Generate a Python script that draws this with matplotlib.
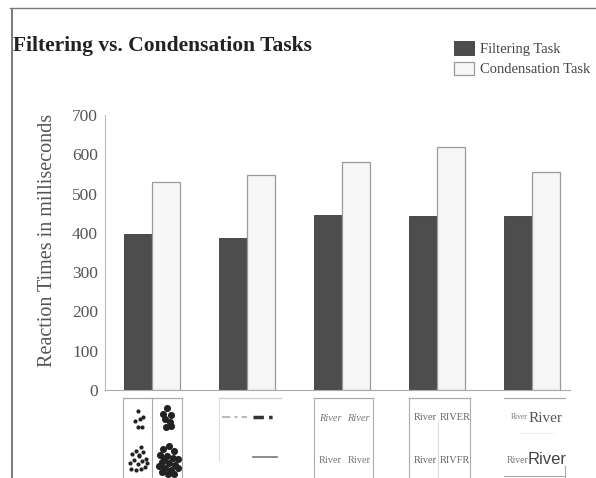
import numpy as np
import matplotlib.pyplot as plt
from matplotlib.lines import Line2D

plt.rcParams['font.family'] = ['Liberation Serif', 'DejaVu Serif']

# data
groups = ["dots", "lines", "river case", "river caps", "river size"]
filtering = [398, 386, 445, 442, 442]
condensation = [530, 548, 580, 618, 556]
yticks = [0, 100, 200, 300, 400, 500, 600, 700]

W, H = 596, 478
PX = 95.0  # pixels per group on the x scale

fig = plt.figure(figsize=(W / 100, H / 100), dpi=100)

# frame of the scanned page
fig.add_artist(Line2D([12 / W, 12 / W], [0, 1 - 9 / H], color='#666', lw=1.2))
fig.add_artist(Line2D([10 / W, 1], [1 - 8 / H, 1 - 8 / H], color='#777', lw=1.0))

ax = fig.add_axes([105 / W, 1 - 390 / H, 465 / W, 275 / H])
x = np.arange(len(groups))
bw = 28 / PX
b1 = ax.bar(x - bw / 2, filtering, bw, color='#4d4d4d', edgecolor='#3a3a3a', lw=0.6,
            label='Filtering Task')
b2 = ax.bar(x + bw / 2, condensation, bw, color='#f6f6f6', edgecolor='#9a9a9a', lw=0.9,
            label='Condensation Task')

ax.set_xlim(-47 / PX, 4 + 38 / PX)
ax.set_ylim(0, 700)
ax.set_yticks(yticks)
ax.set_xticks([])
ax.tick_params(axis='y', length=0, pad=5, labelsize=12.5, labelcolor='#555')
for s in ['top', 'right']:
    ax.spines[s].set_visible(False)
ax.spines['left'].set_color('#bbb')
ax.spines['left'].set_linewidth(0.8)
ax.spines['bottom'].set_color('#aaa')
ax.spines['bottom'].set_linewidth(0.8)
ax.set_ylabel('Reaction Times in milliseconds', fontsize=14.5, color='#555', va='center')
ax.yaxis.set_label_coords(-(105 - 47.5) / 465, 0.545)

fig.text(13 / W, 1 - 51 / H, 'Filtering vs. Condensation Tasks', fontsize=15.5,
         fontweight='bold', color='#222', va='baseline')

fig.legend(handles=[b1, b2], loc='upper left', bbox_to_anchor=(454 / W, 1 - 41 / H),
           frameon=False, fontsize=10.5, handlelength=1.35, handleheight=1.05,
           handletextpad=0.45, labelspacing=0.4, borderpad=0, borderaxespad=0,
           labelcolor='#444')

# stimulus panels under the bars (x in group units, y in page pixels)
pax = fig.add_axes([105 / W, 0, 465 / W, 81 / H], sharex=ax)
pax.set_ylim(478, 397)
pax.axis('off')


def box(i, left, right, top=398, bottom=477, sides=True, color='#aaa'):
    l, r = i + left / PX, i + right / PX
    pax.plot([l, r], [top, top], color=color, lw=0.9)
    if sides:
        pax.plot([l, l], [top, bottom], color=color, lw=0.8)
        pax.plot([r, r], [top, bottom], color=color, lw=0.8)


# panel 1: dot clusters
box(0, -29, 30)
pax.plot([0, 0], [398, 477], color='#aaa', lw=0.8)
small_top = [(-14, 411), (-17, 421), (-12, 419), (-9, 417), (-14, 427), (-10, 427)]
small_bot = [(-11, 447), (-16, 451), (-9, 452), (-20, 454), (-13, 455), (-6, 459),
             (-18, 460), (-10, 461), (-22, 463), (-14, 464), (-5, 463), (-21, 469),
             (-16, 470), (-11, 469), (-7, 467), (-13, 456)]
big_top = [(15, 408), (19, 415), (13, 419), (18, 422), (14, 427), (19, 426), (11, 414)]
big_bot = [(17, 446), (11, 449), (22, 451), (8, 455), (15, 456), (21, 458), (26, 459),
           (10, 462), (17, 463), (23, 465), (7, 466), (13, 468), (19, 470), (26, 468),
           (10, 472), (16, 474), (22, 474), (12, 459)]
for pts, size in [(small_top, 9), (small_bot, 9), (big_top, 26), (big_bot, 26)]:
    pax.scatter([p[0] / PX for p in pts], [p[1] for p in pts], s=size, color='#222', lw=0)

# panel 2: dash-dot and solid lines
box(1, -28, 34, sides=False, color='#ccc')
pax.plot([1 - 28 / PX, 1 - 28 / PX], [398, 460], color='#ddd', lw=0.8)
pax.plot([1 - 25 / PX, 1], [417, 417], color='#bbb', lw=1.5, ls=(0, (4, 2, 1.5, 2)))
pax.plot([1 + 6 / PX, 1 + 30 / PX], [417, 417], color='#333', lw=2.5, ls=(0, (3, 1.5, 1, 1.5)))
pax.plot([1 + 6 / PX, 1 + 30 / PX], [457, 457], color='#777', lw=1.2)

# panel 3: italic vs roman
box(2, -28, 31)
for dx, y, st in [(-12, 418, 'italic'), (16, 418, 'italic'), (-12, 460, 'normal'), (17, 460, 'normal')]:
    pax.text(2 + dx / PX, y, 'River', fontsize=7.5, color='#777', style=st, ha='center', va='center')

# panel 4: lower vs upper case
box(3, -28, 33)
pax.plot([3 + 1 / PX, 3 + 1 / PX], [420, 477], color='#ddd', lw=0.8)
for dx, y, t in [(-12, 417, 'River'), (18, 417, 'RIVER'), (-12, 460, 'River'), (18, 460, 'RIVFR')]:
    pax.text(3 + dx / PX, y, t, fontsize=7.5, color='#666', ha='center', va='center')

# panel 5: small vs large
box(4, -28, 33, sides=False)
pax.plot([4 + 33 / PX, 4 + 33 / PX], [466, 477], color='#aaa', lw=0.8)
pax.plot([4 - 28 / PX, 4 + 33 / PX], [476, 476], color='#aaa', lw=0.8)
pax.plot([4 - 12 / PX, 4 + 22 / PX], [433, 433], color='#eee', lw=0.8)
pax.text(4 - 13 / PX, 417, 'River', fontsize=5.5, color='#777', ha='center', va='center')
pax.text(4 + 14 / PX, 418, 'River', fontsize=11, color='#555', ha='center', va='center')
pax.text(4 - 14 / PX, 460, 'River', fontsize=7, color='#777', ha='center', va='center')
pax.text(4 + 15 / PX, 459, 'River', fontsize=12, color='#444', ha='center', va='center',
         family=['Liberation Sans', 'DejaVu Sans'])

fig.savefig('out.png', dpi=100)
